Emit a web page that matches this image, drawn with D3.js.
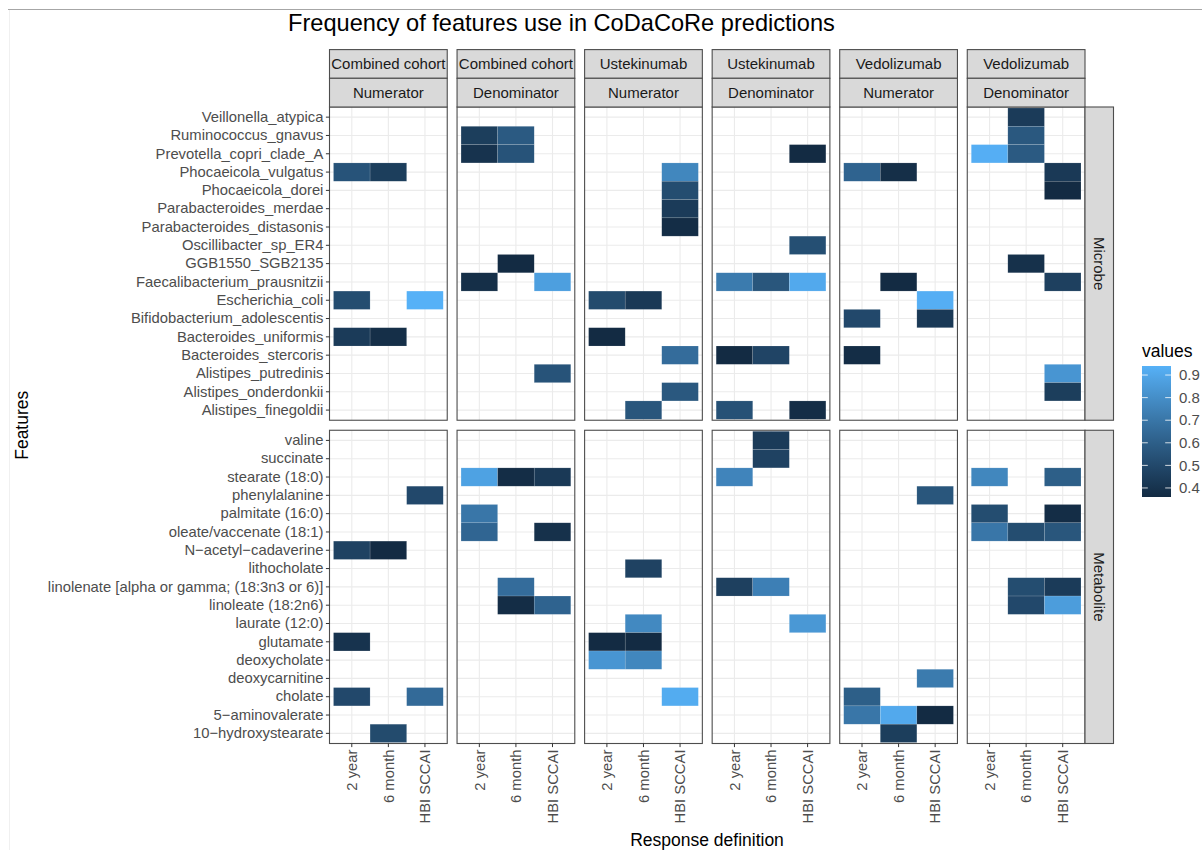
<!DOCTYPE html>
<html>
<head>
<meta charset="utf-8">
<script src="https://cdn.jsdelivr.net/npm/d3@7"></script>
<style>
  body { margin: 0; background: #fff; }
  text { font-family: "Liberation Sans", Arial, Helvetica, sans-serif; }
</style>
</head>
<body>
<div class="display"></div>
<script>
// Heatmap of how often each feature is picked, faceted cohort/part x feature type

const WIDTH = 1202;
const HEIGHT = 850;

const responses = ['2 year', '6 month', 'HBI SCCAI'];
const cohorts = ['Combined cohort', 'Ustekinumab', 'Vedolizumab'];
const parts = ['Numerator', 'Denominator'];
const types = ['Microbe', 'Metabolite'];

const microbes = [
  'Veillonella_atypica', 'Ruminococcus_gnavus', 'Prevotella_copri_clade_A',
  'Phocaeicola_vulgatus', 'Phocaeicola_dorei', 'Parabacteroides_merdae',
  'Parabacteroides_distasonis', 'Oscillibacter_sp_ER4', 'GGB1550_SGB2135',
  'Faecalibacterium_prausnitzii', 'Escherichia_coli', 'Bifidobacterium_adolescentis',
  'Bacteroides_uniformis', 'Bacteroides_stercoris', 'Alistipes_putredinis',
  'Alistipes_onderdonkii', 'Alistipes_finegoldii'
];

const metabolites = [
  'valine', 'succinate', 'stearate (18:0)', 'phenylalanine', 'palmitate (16:0)',
  'oleate/vaccenate (18:1)', 'N\u2212acetyl\u2212cadaverine', 'lithocholate',
  'linolenate [alpha or gamma; (18:3n3 or 6)]', 'linoleate (18:2n6)', 'laurate (12:0)',
  'glutamate', 'deoxycholate', 'deoxycarnitine', 'cholate',
  '5\u2212aminovalerate', '10\u2212hydroxystearate'
];

const legendTicks = [0.4, 0.5, 0.6, 0.7, 0.8, 0.9];
const valueRange = [0.36, 0.94];

// [cohort, part, type, feature, response, value]
const tiles = [
  ['Combined cohort', 'Numerator', 'Microbe', 'Phocaeicola_vulgatus', '2 year', 0.55],
  ['Combined cohort', 'Numerator', 'Microbe', 'Phocaeicola_vulgatus', '6 month', 0.45],
  ['Combined cohort', 'Numerator', 'Microbe', 'Escherichia_coli', '2 year', 0.52],
  ['Combined cohort', 'Numerator', 'Microbe', 'Escherichia_coli', 'HBI SCCAI', 0.94],
  ['Combined cohort', 'Numerator', 'Microbe', 'Bacteroides_uniformis', '2 year', 0.44],
  ['Combined cohort', 'Numerator', 'Microbe', 'Bacteroides_uniformis', '6 month', 0.38],
  ['Combined cohort', 'Numerator', 'Metabolite', 'phenylalanine', 'HBI SCCAI', 0.50],
  ['Combined cohort', 'Numerator', 'Metabolite', 'N\u2212acetyl\u2212cadaverine', '2 year', 0.47],
  ['Combined cohort', 'Numerator', 'Metabolite', 'N\u2212acetyl\u2212cadaverine', '6 month', 0.35],
  ['Combined cohort', 'Numerator', 'Metabolite', 'glutamate', '2 year', 0.40],
  ['Combined cohort', 'Numerator', 'Metabolite', 'cholate', '2 year', 0.50],
  ['Combined cohort', 'Numerator', 'Metabolite', 'cholate', 'HBI SCCAI', 0.65],
  ['Combined cohort', 'Numerator', 'Metabolite', '10\u2212hydroxystearate', '6 month', 0.51],

  ['Combined cohort', 'Denominator', 'Microbe', 'Ruminococcus_gnavus', '2 year', 0.45],
  ['Combined cohort', 'Denominator', 'Microbe', 'Ruminococcus_gnavus', '6 month', 0.58],
  ['Combined cohort', 'Denominator', 'Microbe', 'Prevotella_copri_clade_A', '2 year', 0.40],
  ['Combined cohort', 'Denominator', 'Microbe', 'Prevotella_copri_clade_A', '6 month', 0.55],
  ['Combined cohort', 'Denominator', 'Microbe', 'GGB1550_SGB2135', '6 month', 0.35],
  ['Combined cohort', 'Denominator', 'Microbe', 'Faecalibacterium_prausnitzii', '2 year', 0.38],
  ['Combined cohort', 'Denominator', 'Microbe', 'Faecalibacterium_prausnitzii', 'HBI SCCAI', 0.87],
  ['Combined cohort', 'Denominator', 'Microbe', 'Alistipes_putredinis', 'HBI SCCAI', 0.55],
  ['Combined cohort', 'Denominator', 'Metabolite', 'stearate (18:0)', '2 year', 0.88],
  ['Combined cohort', 'Denominator', 'Metabolite', 'stearate (18:0)', '6 month', 0.37],
  ['Combined cohort', 'Denominator', 'Metabolite', 'stearate (18:0)', 'HBI SCCAI', 0.43],
  ['Combined cohort', 'Denominator', 'Metabolite', 'palmitate (16:0)', '2 year', 0.70],
  ['Combined cohort', 'Denominator', 'Metabolite', 'oleate/vaccenate (18:1)', '2 year', 0.63],
  ['Combined cohort', 'Denominator', 'Metabolite', 'oleate/vaccenate (18:1)', 'HBI SCCAI', 0.39],
  ['Combined cohort', 'Denominator', 'Metabolite', 'linolenate [alpha or gamma; (18:3n3 or 6)]', '6 month', 0.66],
  ['Combined cohort', 'Denominator', 'Metabolite', 'linoleate (18:2n6)', '6 month', 0.37],
  ['Combined cohort', 'Denominator', 'Metabolite', 'linoleate (18:2n6)', 'HBI SCCAI', 0.62],

  ['Ustekinumab', 'Numerator', 'Microbe', 'Phocaeicola_vulgatus', 'HBI SCCAI', 0.77],
  ['Ustekinumab', 'Numerator', 'Microbe', 'Phocaeicola_dorei', 'HBI SCCAI', 0.52],
  ['Ustekinumab', 'Numerator', 'Microbe', 'Parabacteroides_merdae', 'HBI SCCAI', 0.44],
  ['Ustekinumab', 'Numerator', 'Microbe', 'Parabacteroides_distasonis', 'HBI SCCAI', 0.37],
  ['Ustekinumab', 'Numerator', 'Microbe', 'Escherichia_coli', '2 year', 0.51],
  ['Ustekinumab', 'Numerator', 'Microbe', 'Escherichia_coli', '6 month', 0.43],
  ['Ustekinumab', 'Numerator', 'Microbe', 'Bacteroides_uniformis', '2 year', 0.35],
  ['Ustekinumab', 'Numerator', 'Microbe', 'Bacteroides_stercoris', 'HBI SCCAI', 0.66],
  ['Ustekinumab', 'Numerator', 'Microbe', 'Alistipes_onderdonkii', 'HBI SCCAI', 0.57],
  ['Ustekinumab', 'Numerator', 'Microbe', 'Alistipes_finegoldii', '6 month', 0.56],
  ['Ustekinumab', 'Numerator', 'Metabolite', 'lithocholate', '6 month', 0.47],
  ['Ustekinumab', 'Numerator', 'Metabolite', 'laurate (12:0)', '6 month', 0.78],
  ['Ustekinumab', 'Numerator', 'Metabolite', 'glutamate', '2 year', 0.34],
  ['Ustekinumab', 'Numerator', 'Metabolite', 'glutamate', '6 month', 0.35],
  ['Ustekinumab', 'Numerator', 'Metabolite', 'deoxycholate', '2 year', 0.83],
  ['Ustekinumab', 'Numerator', 'Metabolite', 'deoxycholate', '6 month', 0.77],
  ['Ustekinumab', 'Numerator', 'Metabolite', 'cholate', 'HBI SCCAI', 0.92],

  ['Ustekinumab', 'Denominator', 'Microbe', 'Prevotella_copri_clade_A', 'HBI SCCAI', 0.35],
  ['Ustekinumab', 'Denominator', 'Microbe', 'Oscillibacter_sp_ER4', 'HBI SCCAI', 0.53],
  ['Ustekinumab', 'Denominator', 'Microbe', 'Faecalibacterium_prausnitzii', '2 year', 0.72],
  ['Ustekinumab', 'Denominator', 'Microbe', 'Faecalibacterium_prausnitzii', '6 month', 0.56],
  ['Ustekinumab', 'Denominator', 'Microbe', 'Faecalibacterium_prausnitzii', 'HBI SCCAI', 0.91],
  ['Ustekinumab', 'Denominator', 'Microbe', 'Bacteroides_stercoris', '2 year', 0.35],
  ['Ustekinumab', 'Denominator', 'Microbe', 'Bacteroides_stercoris', '6 month', 0.48],
  ['Ustekinumab', 'Denominator', 'Microbe', 'Alistipes_finegoldii', '2 year', 0.54],
  ['Ustekinumab', 'Denominator', 'Microbe', 'Alistipes_finegoldii', 'HBI SCCAI', 0.37],
  ['Ustekinumab', 'Denominator', 'Metabolite', 'valine', '6 month', 0.44],
  ['Ustekinumab', 'Denominator', 'Metabolite', 'succinate', '6 month', 0.47],
  ['Ustekinumab', 'Denominator', 'Metabolite', 'stearate (18:0)', '2 year', 0.76],
  ['Ustekinumab', 'Denominator', 'Metabolite', 'linolenate [alpha or gamma; (18:3n3 or 6)]', '2 year', 0.46],
  ['Ustekinumab', 'Denominator', 'Metabolite', 'linolenate [alpha or gamma; (18:3n3 or 6)]', '6 month', 0.74],
  ['Ustekinumab', 'Denominator', 'Metabolite', 'laurate (12:0)', 'HBI SCCAI', 0.84],

  ['Vedolizumab', 'Numerator', 'Microbe', 'Phocaeicola_vulgatus', '2 year', 0.62],
  ['Vedolizumab', 'Numerator', 'Microbe', 'Phocaeicola_vulgatus', '6 month', 0.38],
  ['Vedolizumab', 'Numerator', 'Microbe', 'Faecalibacterium_prausnitzii', '6 month', 0.34],
  ['Vedolizumab', 'Numerator', 'Microbe', 'Escherichia_coli', 'HBI SCCAI', 0.93],
  ['Vedolizumab', 'Numerator', 'Microbe', 'Bifidobacterium_adolescentis', '2 year', 0.50],
  ['Vedolizumab', 'Numerator', 'Microbe', 'Bifidobacterium_adolescentis', 'HBI SCCAI', 0.43],
  ['Vedolizumab', 'Numerator', 'Microbe', 'Bacteroides_stercoris', '2 year', 0.37],
  ['Vedolizumab', 'Numerator', 'Metabolite', 'phenylalanine', 'HBI SCCAI', 0.56],
  ['Vedolizumab', 'Numerator', 'Metabolite', 'deoxycarnitine', 'HBI SCCAI', 0.72],
  ['Vedolizumab', 'Numerator', 'Metabolite', 'cholate', '2 year', 0.60],
  ['Vedolizumab', 'Numerator', 'Metabolite', '5\u2212aminovalerate', '2 year', 0.70],
  ['Vedolizumab', 'Numerator', 'Metabolite', '5\u2212aminovalerate', '6 month', 0.91],
  ['Vedolizumab', 'Numerator', 'Metabolite', '5\u2212aminovalerate', 'HBI SCCAI', 0.35],
  ['Vedolizumab', 'Numerator', 'Metabolite', '10\u2212hydroxystearate', '6 month', 0.45],

  ['Vedolizumab', 'Denominator', 'Microbe', 'Veillonella_atypica', '6 month', 0.44],
  ['Vedolizumab', 'Denominator', 'Microbe', 'Ruminococcus_gnavus', '6 month', 0.57],
  ['Vedolizumab', 'Denominator', 'Microbe', 'Prevotella_copri_clade_A', '2 year', 0.93],
  ['Vedolizumab', 'Denominator', 'Microbe', 'Prevotella_copri_clade_A', '6 month', 0.58],
  ['Vedolizumab', 'Denominator', 'Microbe', 'Phocaeicola_vulgatus', 'HBI SCCAI', 0.43],
  ['Vedolizumab', 'Denominator', 'Microbe', 'Phocaeicola_dorei', 'HBI SCCAI', 0.35],
  ['Vedolizumab', 'Denominator', 'Microbe', 'GGB1550_SGB2135', '6 month', 0.39],
  ['Vedolizumab', 'Denominator', 'Microbe', 'Faecalibacterium_prausnitzii', 'HBI SCCAI', 0.46],
  ['Vedolizumab', 'Denominator', 'Microbe', 'Alistipes_putredinis', 'HBI SCCAI', 0.83],
  ['Vedolizumab', 'Denominator', 'Microbe', 'Alistipes_onderdonkii', 'HBI SCCAI', 0.45],
  ['Vedolizumab', 'Denominator', 'Metabolite', 'stearate (18:0)', '2 year', 0.77],
  ['Vedolizumab', 'Denominator', 'Metabolite', 'stearate (18:0)', 'HBI SCCAI', 0.60],
  ['Vedolizumab', 'Denominator', 'Metabolite', 'palmitate (16:0)', '2 year', 0.52],
  ['Vedolizumab', 'Denominator', 'Metabolite', 'palmitate (16:0)', 'HBI SCCAI', 0.37],
  ['Vedolizumab', 'Denominator', 'Metabolite', 'oleate/vaccenate (18:1)', '2 year', 0.70],
  ['Vedolizumab', 'Denominator', 'Metabolite', 'oleate/vaccenate (18:1)', '6 month', 0.52],
  ['Vedolizumab', 'Denominator', 'Metabolite', 'oleate/vaccenate (18:1)', 'HBI SCCAI', 0.56],
  ['Vedolizumab', 'Denominator', 'Metabolite', 'linolenate [alpha or gamma; (18:3n3 or 6)]', '6 month', 0.52],
  ['Vedolizumab', 'Denominator', 'Metabolite', 'linolenate [alpha or gamma; (18:3n3 or 6)]', 'HBI SCCAI', 0.44],
  ['Vedolizumab', 'Denominator', 'Metabolite', 'linoleate (18:2n6)', '6 month', 0.50],
  ['Vedolizumab', 'Denominator', 'Metabolite', 'linoleate (18:2n6)', 'HBI SCCAI', 0.86]
];

const facets = cohorts.flatMap(c => parts.map(p => c + '|' + p));
const featuresByType = { Microbe: microbes, Metabolite: metabolites };

const svg = d3.select('.display')
  .append('svg')
  .attr('width', WIDTH)
  .attr('height', HEIGHT);

svg.append('rect').attr('width', WIDTH).attr('height', HEIGHT).attr('fill', '#fff');

// screenshot frame edge
svg.append('line').attr('x1', 8).attr('x2', WIDTH).attr('y1', 9.5).attr('y2', 9.5)
  .attr('stroke', '#a6a6a6').attr('stroke-width', 1);
svg.append('line').attr('x1', 9.5).attr('x2', 9.5).attr('y1', 10).attr('y2', HEIGHT)
  .attr('stroke', '#f0f0f0').attr('stroke-width', 1);

const facetX = d3.scaleBand().domain(facets).range([329.5, 1085]).paddingInner(0.077);
const facetY = d3.scaleBand().domain(types).range([107, 743.5]).paddingInner(0.031);
const pw = facetX.bandwidth();
const ph = facetY.bandwidth();

const x = d3.scaleBand().domain(responses).range([4, pw - 4]);
const yScales = {};
types.forEach(t => {
  yScales[t] = d3.scaleBand().domain(featuresByType[t]).range([1, ph - 1]);
});

const color = d3.scaleLinear().domain(valueRange).range(['#132B43', '#56B1F7'])
  .interpolate(d3.interpolateLab).clamp(true);

const tileData = tiles.map(d => ({
  facet: d[0] + '|' + d[1], type: d[2], feature: d[3], response: d[4], value: d[5]
}));

// panels
facets.forEach((f, ci) => {
  types.forEach((t, ri) => {
    const y = yScales[t];
    const g = svg.append('g')
      .attr('transform', `translate(${facetX(f)},${facetY(t)})`);

    g.append('rect').attr('width', pw).attr('height', ph).attr('fill', '#fff');

    g.selectAll('.hgrid')
      .data(y.domain())
      .enter()
      .append('line')
      .attr('x1', 0).attr('x2', pw)
      .attr('y1', d => y(d) + y.bandwidth() / 2)
      .attr('y2', d => y(d) + y.bandwidth() / 2)
      .attr('stroke', '#ebebeb').attr('stroke-width', 1.1);

    g.selectAll('.vgrid')
      .data(responses)
      .enter()
      .append('line')
      .attr('y1', 0).attr('y2', ph)
      .attr('x1', d => x(d) + x.bandwidth() / 2)
      .attr('x2', d => x(d) + x.bandwidth() / 2)
      .attr('stroke', '#ebebeb').attr('stroke-width', 1.1);

    g.selectAll('.tile')
      .data(tileData.filter(d => d.facet === f && d.type === t))
      .enter()
      .append('rect')
      .attr('class', 'tile')
      .attr('x', d => x(d.response))
      .attr('y', d => y(d.feature))
      .attr('width', x.bandwidth())
      .attr('height', y.bandwidth())
      .attr('fill', d => color(d.value))
      .attr('stroke', 'rgba(255,255,255,0.25)')
      .attr('stroke-width', 0.5);

    g.append('rect').attr('width', pw).attr('height', ph)
      .attr('fill', 'none').attr('stroke', '#4d4d4d').attr('stroke-width', 1.1);

    if (ci === 0) {
      const ax = g.append('g').call(d3.axisLeft(y).tickSize(3.6).tickPadding(2.5));
      ax.select('.domain').remove();
      ax.selectAll('line').attr('stroke', '#333');
      ax.selectAll('text')
        .attr('fill', '#4d4d4d')
        .style('font-size', '14.8px')
        .style('font-family', '"Liberation Sans", Arial, sans-serif');
    }

    if (ri === types.length - 1) {
      const ax = g.append('g').attr('transform', `translate(0,${ph})`)
        .call(d3.axisBottom(x).tickSize(3.6));
      ax.select('.domain').remove();
      ax.selectAll('line').attr('stroke', '#333');
      ax.selectAll('text')
        .attr('fill', '#4d4d4d')
        .attr('transform', 'rotate(-90)')
        .attr('text-anchor', 'end')
        .attr('x', -6)
        .attr('y', 0)
        .attr('dy', '0.35em')
        .style('font-size', '14.8px')
        .style('font-family', '"Liberation Sans", Arial, sans-serif');
    }
  });
});

// top strips, two rows
const stripH = 28.7;
const stripTop = 107 - 2 * stripH;
facets.forEach(f => {
  const [cohort, part] = f.split('|');
  [cohort, part].forEach((label, i) => {
    const sy = stripTop + i * stripH;
    svg.append('rect')
      .attr('x', facetX(f)).attr('y', sy)
      .attr('width', pw).attr('height', stripH)
      .attr('fill', '#d9d9d9').attr('stroke', '#4d4d4d').attr('stroke-width', 1.1);
    svg.append('text')
      .attr('x', facetX(f) + pw / 2).attr('y', sy + stripH / 2)
      .attr('dy', '0.35em')
      .attr('text-anchor', 'middle')
      .attr('fill', '#1a1a1a')
      .style('font-size', '15px')
      .text(label);
  });
});

// right strips
const rx = 1085;
const rw = 28.5;
types.forEach(t => {
  svg.append('rect')
    .attr('x', rx).attr('y', facetY(t))
    .attr('width', rw).attr('height', ph)
    .attr('fill', '#d9d9d9').attr('stroke', '#4d4d4d').attr('stroke-width', 1.1);
  svg.append('text')
    .attr('transform', `translate(${rx + rw / 2},${facetY(t) + ph / 2}) rotate(90)`)
    .attr('dy', '0.35em')
    .attr('text-anchor', 'middle')
    .attr('fill', '#1a1a1a')
    .style('font-size', '15px')
    .text(t);
});

// titles
svg.append('text')
  .attr('x', 288).attr('y', 31)
  .attr('fill', '#000')
  .style('font-size', '23.6px')
  .text('Frequency of features use in CoDaCoRe predictions');

svg.append('text')
  .attr('x', 707).attr('y', 846)
  .attr('text-anchor', 'middle')
  .attr('fill', '#000')
  .style('font-size', '17.5px')
  .text('Response definition');

svg.append('text')
  .attr('transform', `translate(28,${(107 + 743.5) / 2}) rotate(-90)`)
  .attr('text-anchor', 'middle')
  .attr('fill', '#000')
  .style('font-size', '17.5px')
  .text('Features');

// legend
const legTop = 366, legBottom = 497, legX = 1142, legW = 29;
const legScale = d3.scaleLinear().domain(valueRange).range([legBottom, legTop]);

const grad = svg.append('defs').append('linearGradient')
  .attr('id', 'legend-grad')
  .attr('x1', 0).attr('x2', 0).attr('y1', 1).attr('y2', 0);
d3.range(0, 1.0001, 0.1).forEach(t => {
  grad.append('stop')
    .attr('offset', t)
    .attr('stop-color', color(valueRange[0] + t * (valueRange[1] - valueRange[0])));
});

svg.append('text')
  .attr('x', legX).attr('y', 357)
  .attr('fill', '#000')
  .style('font-size', '17.5px')
  .text('values');

svg.append('rect')
  .attr('x', legX).attr('y', legTop)
  .attr('width', legW).attr('height', legBottom - legTop)
  .attr('fill', 'url(#legend-grad)');

const legendTick = svg.append('g').selectAll('g')
  .data(legendTicks)
  .enter()
  .append('g')
  .attr('transform', d => `translate(0,${legScale(d)})`);

legendTick.append('line')
  .attr('x1', legX).attr('x2', legX + 5.8)
  .attr('stroke', '#fff').attr('stroke-width', 0.8);
legendTick.append('line')
  .attr('x1', legX + legW - 5.8).attr('x2', legX + legW)
  .attr('stroke', '#fff').attr('stroke-width', 0.8);
legendTick.append('text')
  .attr('x', legX + legW + 8)
  .attr('dy', '0.35em')
  .attr('fill', '#4d4d4d')
  .style('font-size', '15px')
  .text(d => d.toFixed(1));
</script>
</body>
</html>
